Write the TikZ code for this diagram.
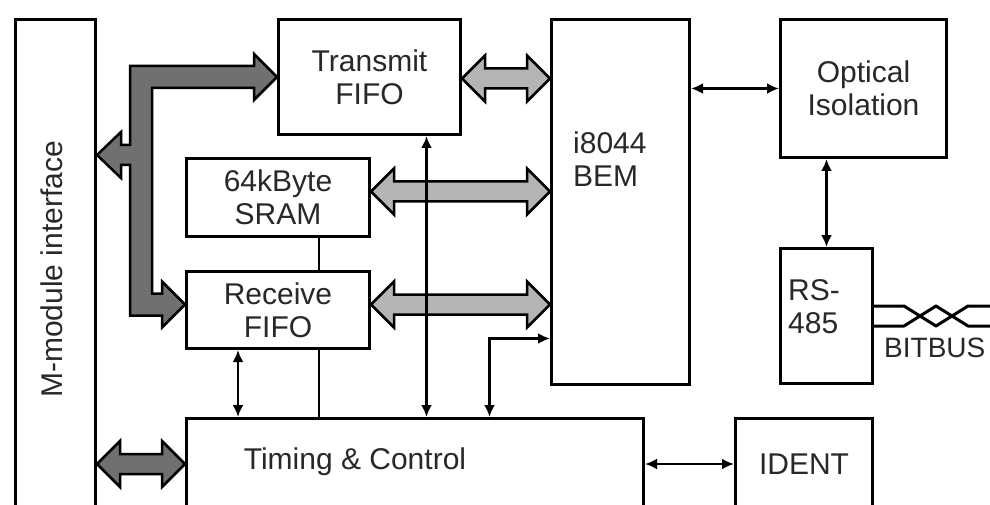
\documentclass[tikz,border=0pt]{standalone}
\usepackage{fontspec}
\setmainfont{Liberation Sans}
\usetikzlibrary{arrows.meta,calc}
\definecolor{busdarkgrey}{RGB}{112,112,112}
\definecolor{buslightgrey}{RGB}{180,180,180}
\definecolor{inkgrey}{RGB}{40,40,40}
% fat double-headed bus between two points on one height
\newcommand{\dbus}[3]{%
  \draw[#1] let \p1=#2, \p2=#3 in
    (\x1,\y1) -- (\x1+23pt,\y1+23pt) -- (\x1+23pt,\y1+10pt)
    -- (\x2-23pt,\y1+10pt) -- (\x2-23pt,\y1+23pt) -- (\x2,\y1)
    -- (\x2-23pt,\y1-23pt) -- (\x2-23pt,\y1-10pt)
    -- (\x1+23pt,\y1-10pt) -- (\x1+23pt,\y1-23pt) -- cycle;}

\begin{document}
\begin{tikzpicture}[x=1pt,y=-1pt,
    font=\fontsize{30}{33}\selectfont,
    blk/.style={draw=black,line width=3pt,fill=white,text=inkgrey,
      align=center,anchor=north west,inner sep=0pt},
    lbl/.style={text=inkgrey,inner sep=0pt},
    sig/.style={line width=2.5pt,
      arrows={Latex[length=12pt,width=11pt]-Latex[length=12pt,width=11pt]}},
    wire/.style={line width=2.5pt},
    busA/.style={draw=black,line width=2.5pt,fill=busdarkgrey},
    busB/.style={draw=black,line width=2.5pt,fill=buslightgrey}]
  \clip (0,0) rectangle (990,505);
  \fill[white] (0,0) rectangle (990,505);

  % Blocks
  \node[blk,minimum width=80pt,minimum height=490pt] (mm) at (14,18) {};
  \node[blk,minimum width=182pt,minimum height=115pt] (tx) at (277,18) {Transmit\\FIFO};
  \node[blk,minimum width=183pt,minimum height=78pt] (sram) at (185,157) {64kByte\\SRAM};
  \node[blk,minimum width=183pt,minimum height=77pt] (rx) at (185,270) {Receive\\FIFO};
  \node[blk,minimum width=457pt,minimum height=91pt] (timing) at (185,417) {};
  \node[blk,minimum width=138pt,minimum height=365pt] (bem) at (550,18) {};
  \node[blk,minimum width=166pt,minimum height=138pt] (opt) at (779,18) {Optical\\Isolation};
  \node[blk,minimum width=92pt,minimum height=135pt] (rs) at (779,247) {};
  \node[blk,minimum width=137pt,minimum height=91pt] (ident) at (734,417) {IDENT};

  % Labels placed off centre
  \node[lbl,rotate=90] (mmtext) at ([shift={(-4,5)}]mm.center) {M-module interface};
  \node[lbl,align=left,anchor=west] (bemtext) at ([shift={(23,141)}]bem.north west) {i8044\\BEM};
  \node[lbl,align=left,anchor=west] (rstext) at ([shift={(9,60)}]rs.north west) {RS-\\485};
  \node[lbl] (timingtext) at ([shift={(170,45)}]timing.north west) {Timing \& Control};
  \node[lbl,anchor=west,font=\fontsize{28}{33}\selectfont] (bitbus)
    at ([shift={(10,32)}]rs.east) {BITBUS};

  % Host bus (dark)
  \coordinate (trunk) at (141,0);
  \draw[busA] let \p1=(tx.west), \p2=([yshift=5.5pt]rx.west),
      \p3=(mm.east |- 0,155), \p4=(trunk) in
    (\x4-11pt,\y1+11pt) -- (\x1-23pt,\y1+11pt) -- (\x1-23pt,\y1+23pt)
    -- (\x1,\y1) -- (\x1-23pt,\y1-23pt) -- (\x1-23pt,\y1-11pt)
    -- (\x4+11pt,\y1-11pt) -- (\x4+11pt,\y2+11pt) -- (\x2-23pt,\y2+11pt)
    -- (\x2-23pt,\y2+23pt) -- (\x2,\y2) -- (\x2-23pt,\y2-23pt)
    -- (\x2-23pt,\y2-11pt) -- (\x4-11pt,\y2-11pt) -- (\x4-11pt,\y3-10pt)
    -- (\x3+24pt,\y3-10pt) -- (\x3+24pt,\y3-23pt) -- (\x3,\y3)
    -- (\x3+24pt,\y3+23pt) -- (\x3+24pt,\y3+10pt) -- (\x4-11pt,\y3+10pt)
    -- cycle;
  \dbus{busA}{(mm.east |- timing.west)}{(timing.west)}

  % Controller buses (light)
  \dbus{busB}{([yshift=-1.5pt]tx.east)}{([yshift=-1.5pt]bem.west |- tx.east)}
  \dbus{busB}{([yshift=6pt]sram.east)}{([yshift=6pt]bem.west |- sram.east)}
  \dbus{busB}{([yshift=5.5pt]rx.east)}{([yshift=5.5pt]bem.west |- rx.east)}

  % Control lines
  \draw[sig] ([xshift=57pt]tx.south) -- ([xshift=57pt]tx.south |- timing.north);
  \draw[wire] ([xshift=41pt]sram.south) -- ([xshift=41pt]rx.north);
  \draw[wire] ([xshift=41pt]rx.south) -- ([xshift=41pt]rx.south |- timing.north);
  \draw[sig] ([xshift=-40pt]rx.south) -- ([xshift=-40pt]rx.south |- timing.north);
  \draw[sig] ([xshift=74.5pt]timing.north) |- ([yshift=-136.5pt]bem.west);
  \draw[sig] (bem.east |- opt.west) -- (opt.west);
  \draw[sig] (rs.north |- opt.south) -- (rs.north);
  \draw[sig] (timing.east) -- (ident.west);

  % Twisted pair
  \draw[line width=3pt,line join=round] ([yshift=10pt]rs.east) -- ++(30,0)
    -- ++(32,20) -- ++(32,-20) -- ++(40,0);
  \draw[line width=3pt,line join=round] ([yshift=-10pt]rs.east) -- ++(30,0)
    -- ++(32,-20) -- ++(32,20) -- ++(40,0);
\end{tikzpicture}
\end{document}
